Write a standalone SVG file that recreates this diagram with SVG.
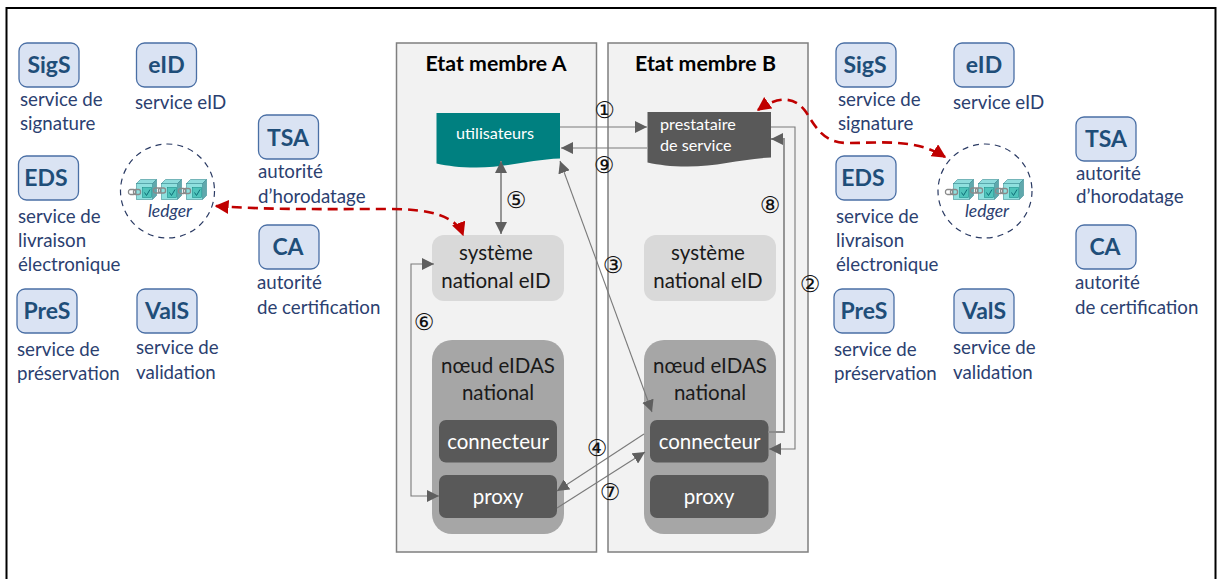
<svg xmlns="http://www.w3.org/2000/svg" width="1218" height="579" viewBox="0 0 1218 579">
<style>
text{font-family:"Lato","Open Sans",sans-serif}
.nb{fill:#dae3f3;stroke:#4a6fa5;stroke-width:1.3}
.nt{font-size:23px;font-weight:700;fill:#1f4e79;text-anchor:middle}
.lb{font-size:18.700px;fill:#2b4070}
.panel{fill:#f2f2f2;stroke:#7f7f7f;stroke-width:1.5}
.ti{font-size:21.300px;font-weight:700;fill:#000;text-anchor:middle}
.sys{fill:#d9d9d9}
.node{fill:#a6a6a6}
.dk{fill:#595959}
.big{font-size:20.500px;fill:#1a1a1a;text-anchor:middle}
.wh{font-size:20.500px;fill:#fff;text-anchor:middle}
.sm{font-size:16.200px;fill:#fff}
.num{font-family:"DejaVu Sans",sans-serif;font-size:23px;fill:#111;text-anchor:middle}
.c{fill:none;stroke:#7a7a7a;stroke-width:1.1}
.c2{fill:none;stroke:#8c8c8c;stroke-width:1.8}
.r{fill:none;stroke:#c00000;stroke-width:2.6;stroke-dasharray:10 6}
.ci{fill:none;stroke:#2a3a63;stroke-width:1.2;stroke-dasharray:6 5}
.led{font-size:17.500px;font-style:italic;fill:#2b4070;text-anchor:middle}
</style>
<defs>
<marker id="a" viewBox="0 0 10 10" refX="10" refY="5" markerWidth="12" markerHeight="12" markerUnits="userSpaceOnUse" orient="auto-start-reverse"><path d="M0 0L10 5L0 10z" fill="#5f5f5f"/></marker>
<marker id="rd" viewBox="0 0 10 10" refX="9" refY="5" markerWidth="14" markerHeight="14" markerUnits="userSpaceOnUse" orient="auto-start-reverse"><path d="M0 0L10 5L0 10z" fill="#c00000"/></marker>
<g id="cube"><path d="M0 4L4 0H20L16 4z" fill="#8fdcdc" stroke="#3d8f96" stroke-width=".6"/><path d="M16 4L20 0V16L16 20z" fill="#5fa8ac" stroke="#3d8f96" stroke-width=".6"/><rect x="0" y="4" width="16" height="16" fill="#8fe0de" stroke="#3d8f96" stroke-width=".6"/><rect x="6" y="8" width="9" height="10" fill="#4fc4bb" stroke="#1f8f8a" stroke-width=".6"/><path d="M8 13L10 16L13.500 10" fill="none" stroke="#0f6f78" stroke-width="1"/></g>
<g id="link"><rect x="0" y="0" width="7" height="5" rx="2" fill="none" stroke="#8a8a8a" stroke-width="1.300"/><rect x="5" y="0" width="7" height="5" rx="2" fill="none" stroke="#8a8a8a" stroke-width="1.300"/></g>
<g id="chain"><use href="#cube" x="0" y="0"/><use href="#cube" x="25" y="0"/><use href="#cube" x="50" y="0"/><use href="#link" x="-8" y="10"/><use href="#link" x="17" y="8.500"/><use href="#link" x="42" y="9"/></g>
<path id="wave" d="M0 0H123.500V45.500C95 46.500 70 54.500 40 54.500C22 54.500 12 53 0 50.500Z"/>
</defs>
<rect x="6.500" y="8" width="1209" height="575" fill="#fff" stroke="#000" stroke-width="2"/>

<g id="panel-a"><rect class="panel" x="396.500" y="43" width="200" height="509"/><text class="ti" x="496" y="71">Etat membre A</text></g>
<g id="panel-b"><rect class="panel" x="608" y="43" width="200" height="509"/><text class="ti" x="705.500" y="71">Etat membre B</text></g>

<g id="sigs-a"><rect class="nb" x="19" y="43" width="60" height="44" rx="8"/><text class="nt" x="49" y="73">SigS</text><text class="lb" x="20" y="106">service de</text><text class="lb" x="20" y="130">signature</text></g>
<g id="eid-a"><rect class="nb" x="136.500" y="43" width="60" height="44" rx="8"/><text class="nt" x="166.500" y="73">eID</text><text class="lb" x="135" y="109">service eID</text></g>
<g id="tsa-a"><rect class="nb" x="258.500" y="115" width="60" height="44" rx="8"/><text class="nt" x="288" y="146">TSA</text><text class="lb" x="258" y="178">autorité</text><text class="lb" x="258" y="203">d’horodatage</text></g>
<g id="eds-a"><rect class="nb" x="18.500" y="156" width="60" height="44" rx="8"/><text class="nt" x="46" y="186">EDS</text><text class="lb" x="18" y="223">service de</text><text class="lb" x="18" y="247">livraison</text><text class="lb" x="18" y="271">électronique</text></g>
<g id="ca-a"><rect class="nb" x="259" y="225" width="60" height="44" rx="8"/><text class="nt" x="288" y="255">CA</text><text class="lb" x="257" y="289">autorité</text><text class="lb" x="257" y="314">de certification</text></g>
<g id="pres-a"><rect class="nb" x="17" y="289" width="60" height="44" rx="8"/><text class="nt" x="47" y="319">PreS</text><text class="lb" x="17" y="356">service de</text><text class="lb" x="17" y="380">préservation</text></g>
<g id="vals-a"><rect class="nb" x="137" y="289" width="60" height="44" rx="8"/><text class="nt" x="167" y="319">ValS</text><text class="lb" x="136" y="354">service de</text><text class="lb" x="136" y="379">validation</text></g>
<g id="ledger-a"><circle class="ci" cx="167.500" cy="191" r="47"/><use href="#chain" x="136.500" y="179.500"/><text class="led" x="170" y="217">ledger</text></g>

<g id="sigs-b"><rect class="nb" x="836" y="43" width="60" height="44" rx="8"/><text class="nt" x="865" y="73">SigS</text><text class="lb" x="838" y="106">service de</text><text class="lb" x="838" y="130">signature</text></g>
<g id="eid-b"><rect class="nb" x="954" y="43" width="60" height="44" rx="8"/><text class="nt" x="984" y="73">eID</text><text class="lb" x="953" y="109">service eID</text></g>
<g id="tsa-b"><rect class="nb" x="1076" y="117" width="60" height="44" rx="8"/><text class="nt" x="1106" y="147">TSA</text><text class="lb" x="1076" y="180">autorité</text><text class="lb" x="1076" y="203">d’horodatage</text></g>
<g id="eds-b"><rect class="nb" x="836" y="156" width="60" height="44" rx="8"/><text class="nt" x="863" y="186">EDS</text><text class="lb" x="836" y="223">service de</text><text class="lb" x="836" y="247">livraison</text><text class="lb" x="836" y="271">électronique</text></g>
<g id="ca-b"><rect class="nb" x="1076" y="225" width="60" height="44" rx="8"/><text class="nt" x="1105" y="255">CA</text><text class="lb" x="1075" y="289">autorité</text><text class="lb" x="1075" y="314">de certification</text></g>
<g id="pres-b"><rect class="nb" x="834" y="289" width="60" height="44" rx="8"/><text class="nt" x="864" y="319">PreS</text><text class="lb" x="834" y="356">service de</text><text class="lb" x="834" y="380">préservation</text></g>
<g id="vals-b"><rect class="nb" x="954" y="289" width="60" height="44" rx="8"/><text class="nt" x="984" y="319">ValS</text><text class="lb" x="953" y="354">service de</text><text class="lb" x="953" y="379">validation</text></g>
<g id="ledger-b"><circle class="ci" cx="985" cy="191" r="47"/><use href="#chain" x="953.500" y="179.500"/><text class="led" x="987" y="217">ledger</text></g>

<g id="utilisateurs"><use href="#wave" x="436.500" y="113" fill="#008080"/><text x="495" y="139" class="sm" text-anchor="middle">utilisateurs</text></g>
<g id="prestataire"><use href="#wave" x="647.500" y="112" fill="#595959"/><text x="660" y="130" class="sm">prestataire</text><text x="660" y="151" class="sm">de service</text></g>

<g id="systeme-a"><rect class="sys" x="432" y="235" width="132" height="66" rx="12"/><text class="big" x="496" y="260">système</text><text class="big" x="496" y="288">national eID</text></g>
<g id="systeme-b"><rect class="sys" x="644" y="235" width="132" height="66" rx="12"/><text class="big" x="708" y="260">système</text><text class="big" x="708" y="288">national eID</text></g>
<g id="noeud-a"><rect class="node" x="432" y="340" width="132" height="194" rx="20"/><text class="big" x="498" y="373">nœud eIDAS</text><text class="big" x="498" y="400">national</text></g>
<g id="noeud-b"><rect class="node" x="644" y="340" width="132" height="194" rx="20"/><text class="big" x="710" y="373">nœud eIDAS</text><text class="big" x="710" y="400">national</text></g>
<g id="connecteur-a"><rect class="dk" x="439" y="420" width="118" height="42.500" rx="7"/><text class="wh" x="498" y="449">connecteur</text></g>
<g id="proxy-a"><rect class="dk" x="439" y="475" width="118" height="43" rx="7"/><text class="wh" x="498" y="504">proxy</text></g>
<g id="connecteur-b"><rect class="dk" x="650" y="420" width="118.500" height="42.500" rx="7"/><text class="wh" x="709.500" y="449">connecteur</text></g>
<g id="proxy-b"><rect class="dk" x="650" y="475" width="118.500" height="43" rx="7"/><text class="wh" x="709" y="504">proxy</text></g>

<g id="connectors">
<path class="c" d="M560 127H647" marker-end="url(#a)"/>
<path class="c" d="M647 148H561" marker-end="url(#a)"/>
<path class="c2" d="M501 161V234" marker-start="url(#a)" marker-end="url(#a)"/>
<path class="c" d="M560 161L652 412" marker-start="url(#a)" marker-end="url(#a)"/>
<path class="c" d="M434 264H411V496H439" marker-start="url(#a)" marker-end="url(#a)"/>
<path class="c" d="M644 434L557 491" marker-end="url(#a)"/>
<path class="c" d="M557 508L645 452" marker-end="url(#a)"/>
<path class="c2" d="M768 432H784V139H771" marker-end="url(#a)"/>
<path class="c" d="M771 127H795V449H769" marker-end="url(#a)"/>
<path class="r" d="M216 206C270 210 330 209 390 209C430 209 456 216 463 235" marker-start="url(#rd)" marker-end="url(#rd)"/>
<path class="r" d="M758 110C772 100 792 92 806 112C816 128 824 143 848 143C880 143 915 138 945 157" marker-start="url(#rd)" marker-end="url(#rd)"/>
</g>
<g id="labels">
<text class="num" x="604.500" y="118">①</text><text class="num" x="604" y="173">⑨</text><text class="num" x="516" y="208">⑤</text><text class="num" x="770" y="213">⑧</text><text class="num" x="613" y="273">③</text><text class="num" x="810" y="292">②</text><text class="num" x="424" y="330">⑥</text><text class="num" x="597" y="456">④</text><text class="num" x="610" y="500">⑦</text>
</g>
</svg>
